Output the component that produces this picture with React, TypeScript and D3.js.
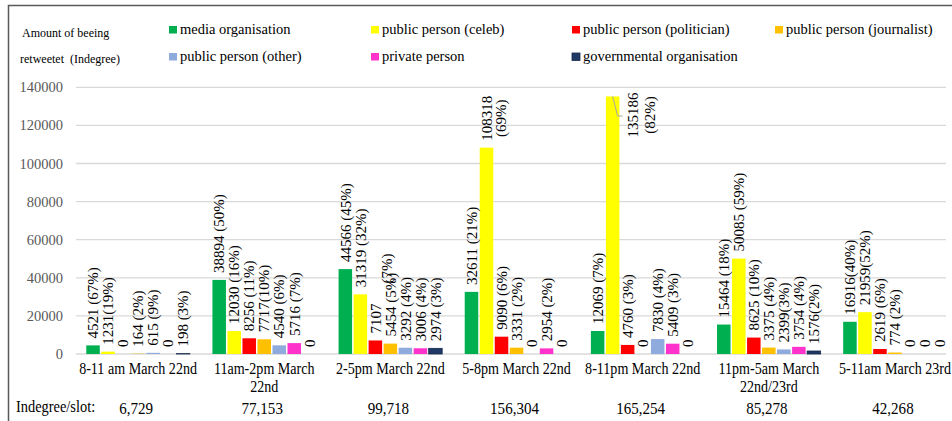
import React, { useEffect, useRef } from 'react';
import * as d3 from 'd3';

const categories = [
  '8-11 am March 22nd',
  '11am-2pm March\n22nd',
  '2-5pm March 22nd',
  '5-8pm March 22nd',
  '8-11pm March 22nd',
  '11pm-5am March\n22nd/23rd',
  '5-11am March 23rd',
];
const seriesNames = [
  'media organisation',
  'public person (celeb)',
  'public person (politician)',
  'public person (journalist)',
  'public person (other)',
  'private person',
  'governmental organisation',
];
const seriesColors = ['#00B050', '#FFFF00', '#FF0000', '#FFC000', '#8FAADC', '#FF33CC', '#203864'];

const mediaOrg = [4521, 38894, 44566, 32611, 12069, 15464, 16916];
const celeb = [1231, 12030, 31319, 108318, 135186, 50085, 21959];
const politician = [0, 8256, 7107, 9090, 4760, 8625, 2619];
const journalist = [164, 7717, 5454, 3331, 0, 3375, 774];
const otherPerson = [615, 4540, 3292, 0, 7830, 2399, 0];
const privatePerson = [0, 5716, 3006, 2954, 5409, 3754, 0];
const governmental = [198, 0, 2974, 0, 0, 1576, 0];

const mediaOrgLabels = ['4521 (67%)', '38894 (50%)', '44566 (45%)', '32611 (21%)', '12069 (7%)', '15464 (18%)', '16916(40%)'];
const celebLabels = ['1231(19%)', '12030 (16%)', '31319 (32%)', '108318\n(69%)', '135186\n(82%)', '50085 (59%)', '21959(52%)'];
const politicianLabels = ['0', '8256 (11%)', '7107\n(7%)', '9090 (6%)', '4760 (3%)', '8625 (10%)', '2619 (6%)'];
const journalistLabels = ['164 (2%)', '7717(10%)', '5454 (5%)', '3331 (2%)', '0', '3375 (4%)', '774 (2%)'];
const otherLabels = ['615 (9%)', '4540 (6%)', '3292 (4%)', '0', '7830 (4%)', '2399(3%)', '0'];
const privateLabels = ['0', '5716 (7%)', '3006 (4%)', '2954 (2%)', '5409 (3%)', '3754 (4%)', '0'];
const govLabels = ['198 (3%)', '0', '2974 (3%)', '0', '0', '1576(2%)', '0'];

const slotTotals = ['6,729', '77,153', '99,718', '156,304', '165,254', '85,278', '42,268'];
const yTicks = [0, 20000, 40000, 60000, 80000, 100000, 120000, 140000];
const yTitle = ['Amount of beeing', 'retweetet  (Indegree)'];
const slotTitle = 'Indegree/slot:';

const seriesValues = [mediaOrg, celeb, politician, journalist, otherPerson, privatePerson, governmental];
const seriesLabels = [mediaOrgLabels, celebLabels, politicianLabels, journalistLabels, otherLabels, privateLabels, govLabels];

const SERIF = 'Liberation Serif';

export default function App() {
  const ref = useRef<SVGSVGElement>(null);

  useEffect(() => {
    const W = 952;
    const H = 421;
    const svg = d3.select(ref.current);
    svg.selectAll('*').remove();

    svg.append('rect').attr('width', W).attr('height', H).attr('fill', '#fff');
    svg
      .append('path')
      .attr('d', `M8.5,${H} V5.5 H${W}`)
      .attr('fill', 'none')
      .attr('stroke', '#5a5a5a')
      .attr('stroke-width', 1.5);

    const y = d3.scaleLinear().domain([0, 140000]).range([354, 87.3]);
    const x0 = d3
      .scaleBand<number>()
      .domain(d3.range(categories.length))
      .range([75, 75 + 7 * 126.15]);
    const clusterW = 103.6;
    const x1 = d3
      .scaleBand<number>()
      .domain(d3.range(seriesNames.length))
      .range([0, clusterW])
      .paddingInner(0.1);
    const barX = (g: number, s: number) => (x0(g) as number) + (x0.bandwidth() - clusterW) / 2 + (x1(s) as number);

    const txt = (parent: any, size: number) =>
      parent.append('text').attr('font-family', SERIF).attr('font-size', size);

    // gridlines + ticks
    const grid = svg.append('g');
    yTicks.forEach((t) => {
      grid
        .append('line')
        .attr('x1', 76)
        .attr('x2', 946)
        .attr('y1', y(t))
        .attr('y2', y(t))
        .attr('stroke', '#d9d9d9')
        .attr('stroke-width', 1.3);
      txt(grid, 14.5)
        .attr('x', 63)
        .attr('y', y(t))
        .attr('dy', '0.35em')
        .attr('text-anchor', 'end')
        .attr('fill', '#595959')
        .text(String(t));
    });

    // bars
    const bars = svg.append('g');
    seriesValues.forEach((vals, s) => {
      vals.forEach((v, g) => {
        if (v <= 0) return;
        bars
          .append('rect')
          .attr('x', barX(g, s))
          .attr('y', y(v))
          .attr('width', x1.bandwidth())
          .attr('height', y(0) - y(v))
          .attr('fill', seriesColors[s])
          .attr('stroke', s === 6 ? '#162a4d' : 'none')
          .attr('stroke-width', 0.8);
      });
    });

    // data labels
    const lab = svg.append('g');
    seriesLabels.forEach((labs, s) => {
      labs.forEach((label, g) => {
        const v = seriesValues[s][g];
        const cx0 = barX(g, s) + x1.bandwidth() / 2;
        const lines = label.split('\n');
        const els = lines.map((ln) =>
          txt(lab, 15).attr('fill', '#000').attr('text-anchor', 'middle').attr('dy', '0.35em').text(ln)
        );
        const lens = els.map((e: any) => (e.node() as SVGTextElement).getComputedTextLength());
        const maxLen = Math.max(...lens);
        let cx = cx0;
        let cy = y(v) - 7 - maxLen / 2;
        let step = 14;
        const special135 = s === 1 && g === 4;
        if (special135) {
          cx = cx0 + 20.5;
          cy = 115;
          step = 17;
          lab
            .append('path')
            .attr('d', `M${cx0},${y(v)} L${cx0 + 5},${cy + 1} L${cx0 + 10},${cy + 1}`)
            .attr('fill', 'none')
            .attr('stroke', '#a6a6a6')
            .attr('stroke-width', 1);
        }
        els.forEach((e: any, i: number) => {
          let lx = cx + i * step;
          let ly = cy;
          if (s === 2 && g === 2 && i === 1) {
            ly -= 50;
            lx -= 3;
          }
          e.attr('transform', `translate(${lx},${ly}) rotate(-90)`);
        });
      });
    });

    // x category labels
    const xl = svg.append('g');
    categories.forEach((c, g) => {
      const cx = (x0(g) as number) + x0.bandwidth() / 2;
      c.split('\n').forEach((ln, i) => {
        txt(xl, 16)
          .attr('fill', '#000')
          .attr('transform', `translate(${cx},${374 + i * 17.5}) scale(0.88,1)`)
          .attr('text-anchor', 'middle')
          .text(ln);
      });
    });

    // indegree per slot row
    const row = svg.append('g');
    txt(row, 16).attr('fill', '#000').attr('transform', `translate(16,412) scale(0.9,1)`).text(slotTitle);
    slotTotals.forEach((t, g) => {
      const cx = (x0(g) as number) + x0.bandwidth() / 2 - 2;
      txt(row, 17.5)
        .attr('fill', '#000')
        .attr('transform', `translate(${cx},414) scale(0.86,1)`)
        .attr('text-anchor', 'middle')
        .text(t);
    });

    // y title
    const yt = svg.append('g');
    yTitle.forEach((t, i) => {
      txt(yt, 12)
        .attr('fill', '#000')
        .attr('x', i === 0 ? 22 : 20)
        .attr('y', 37 + i * 26)
        .style('white-space', 'pre')
        .text(t);
    });

    // legend
    const legX = [169, 371, 572, 775];
    const legY = [29.5, 56.5];
    const leg = svg.append('g');
    seriesNames.forEach((n, i) => {
      const col = i < 4 ? i : i - 4;
      const r = i < 4 ? 0 : 1;
      const lx = legX[col];
      const ly = legY[r];
      leg
        .append('rect')
        .attr('x', lx)
        .attr('y', ly - 3.5)
        .attr('width', 8)
        .attr('height', 7.5)
        .attr('fill', seriesColors[i])
        .attr('stroke', i === 6 ? '#162a4d' : 'none')
        .attr('stroke-width', 0.8);
      txt(leg, 14.5).attr('fill', '#000').attr('x', lx + 11).attr('y', ly + 4.5).text(n);
    });
  }, []);

  return (
    <svg
      ref={ref}
      width={952}
      height={421}
      style={{ position: 'absolute', left: 0, top: 0, display: 'block' }}
    />
  );
}
